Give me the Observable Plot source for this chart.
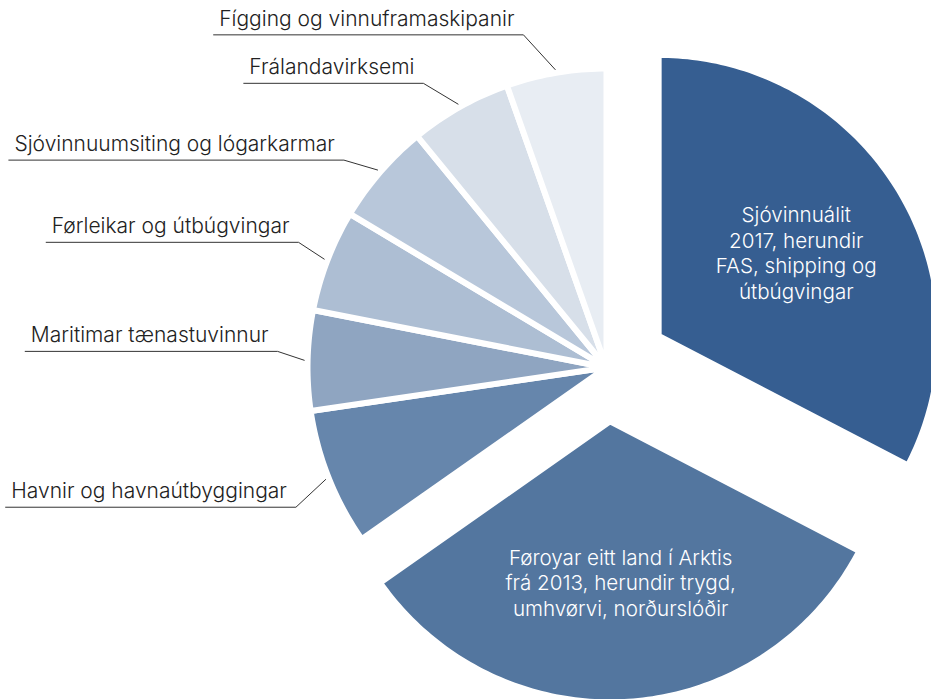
<!DOCTYPE html>
<html>
<head>
<meta charset="utf-8">
<script src="https://cdn.jsdelivr.net/npm/d3@7"></script>
<script src="https://cdn.jsdelivr.net/npm/@observablehq/plot@0.6"></script>
<style>
html,body{margin:0;padding:0;background:#fff;overflow:hidden}
</style>
</head>
<body>
<div id="chart"></div>
<script>
// ---------- data ----------
const categories = [
  "Sjóvinnuálit\n2017, herundir\nFAS, shipping og\nútbúgvingar",
  "Føroyar eitt land í Arktis\nfrá 2013, herundir trygd,\numhvørvi, norðurslóðir",
  "Havnir og havnaútbyggingar",
  "Maritimar tænastuvinnur",
  "Førleikar og útbúgvingar",
  "Sjóvinnuumsiting og lógarkarmar",
  "Frálandavirksemi",
  "Fígging og vinnuframaskipanir"
];
const values = [32.6, 32.6, 7.4, 5.4, 5.5, 5.5, 5.5, 5.4];
const highlighted = [true, true, false, false, false, false, false, false];

// ---------- styles / layout ----------
const colors = ["#365e91", "#53769f", "#6686ac", "#8fa5c1", "#adbed3", "#b8c7da", "#d7dfe9", "#e8edf3"];
const W = 931, H = 699;
const CX = 606, CY = 367;
const R_SMALL = 299, R_BIG = 281;
const EXPLODE = [61, 54];
const INNER_R = 161;
const GAP = 6;
const FONT = "Inter, Roboto, 'DejaVu Sans', sans-serif";
const FS = 21, FS_IN = 20.6;
const elbowOffset = {2: [-30, 28], 3: [-27, -9], 4: [-26, -17], 5: [-34, -10], 6: [-35, -21], 7: [-32, -35]};

const rows = categories.map((name, i) => ({name, value: values[i], i}));
const arcs = d3.pie().sort(null).value(d => d.value)(rows);

const ctx = document.createElement("canvas").getContext("2d");
ctx.font = `300 ${FS}px ${FONT}`;

const polys = [], inner = [], leaders = [], outer = [];
arcs.forEach(a => {
  const i = a.data.i;
  const mid = (a.startAngle + a.endAngle) / 2;
  const hi = highlighted[i];
  const e = hi ? EXPLODE[i] : 0;
  const ox = e * Math.sin(mid), oy = -e * Math.cos(mid);
  const r = hi ? R_BIG : R_SMALL;
  const steps = Math.max(4, Math.ceil((a.endAngle - a.startAngle) * 180 / Math.PI));
  polys.push({i, x: ox, y: oy, fill: colors[i]});
  for (let s = 0; s <= steps; ++s) {
    const t = a.startAngle + (a.endAngle - a.startAngle) * s / steps;
    polys.push({i, x: ox + r * Math.sin(t), y: oy - r * Math.cos(t), fill: colors[i]});
  }
  polys.push({i, x: ox, y: oy, fill: colors[i]});
  if (hi) {
    inner.push({x: ox + INNER_R * Math.sin(mid), y: oy - INNER_R * Math.cos(mid), text: a.data.name});
  } else {
    const re = r + 3;
    const ex = re * Math.sin(mid), ey = -re * Math.cos(mid);
    const [dx, dy] = elbowOffset[i];
    const bx = ex + dx, by = ey + dy;
    const w = ctx.measureText(a.data.name).width;
    const tx = bx - 9;
    const ux = tx - w - 6;
    leaders.push({i, x: ex, y: ey}, {i, x: bx, y: by}, {i, x: ux, y: by});
    outer.push({x: tx, y: by - 9, text: a.data.name});
  }
});

const chart = Plot.plot({
  width: W, height: H, margin: 0,
  x: {domain: [-CX, W - CX], range: [0, W], axis: null},
  y: {domain: [-CY, H - CY], range: [0, H], axis: null},
  color: {type: "identity"},
  style: {fontFamily: FONT, background: "#fff"},
  marks: [
    Plot.line(polys, {x: "x", y: "y", z: "i", fill: "fill", stroke: "white", strokeWidth: GAP, curve: "linear"}),
    Plot.line(leaders, {x: "x", y: "y", z: "i", stroke: "#333", strokeWidth: 1, strokeLinejoin: "miter", strokeLinecap: "butt"}),
    Plot.text(inner, {x: "x", y: "y", text: "text", fill: "white", fontSize: FS_IN, fontWeight: 300, fontFamily: FONT, lineHeight: 1.25, textAnchor: "middle", lineAnchor: "middle"}),
    Plot.text(outer, {x: "x", y: "y", text: "text", fill: "#222", fontSize: FS, fontWeight: 300, fontFamily: FONT, textAnchor: "end", lineAnchor: "bottom"})
  ]
});
document.getElementById("chart").appendChild(chart);
</script>
</body>
</html>
